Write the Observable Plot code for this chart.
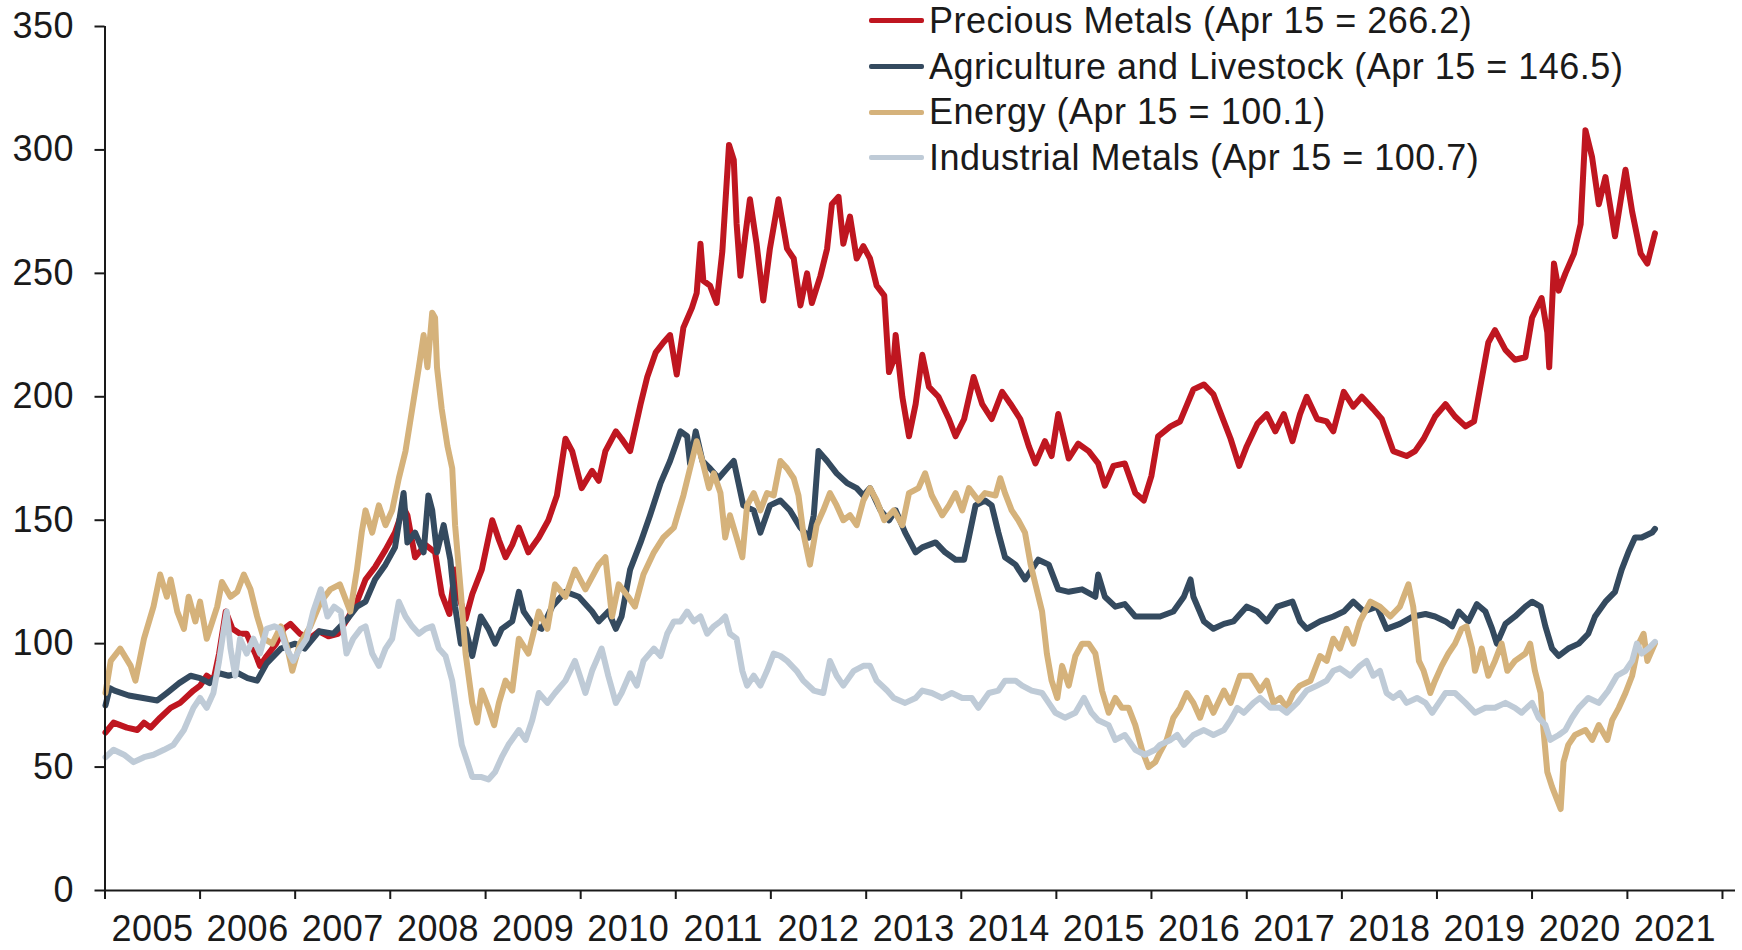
<!DOCTYPE html>
<html><head><meta charset="utf-8">
<script src="https://cdn.jsdelivr.net/npm/d3@7"></script>
<script src="https://cdn.jsdelivr.net/npm/@observablehq/plot@0.6"></script>
<style>
html,body{margin:0;padding:0;background:#fff;}
#wrap{position:relative;width:1742px;height:950px;overflow:hidden;font-family:"Liberation Sans",Arial,sans-serif;color:#1a1a1a;}
#legend{position:absolute;left:869px;top:-2px;font-size:36px;letter-spacing:0.5px;}
.row{display:flex;align-items:center;white-space:nowrap;height:45.7px;}
.row span.tx{line-height:30px;}
.sw{width:55px;height:5px;margin-right:5px;border-radius:2px;}
</style></head><body><div id="wrap"><div id="chart"></div><div id="legend"></div></div>
<script>
// ---- data (decimal year, index value) ----
const seriesNames = ["Precious Metals", "Agriculture and Livestock", "Energy", "Industrial Metals"];
const lastValues = ["266.2", "146.5", "100.1", "100.7"];
const seriesColors = ["#BF1620", "#344A5F", "#D5B27B", "#BFCBD7"];
const yTicks = [0, 50, 100, 150, 200, 250, 300, 350];
const tickYears = [2005,2006,2007,2008,2009,2010,2011,2012,2013,2014,2015,2016,2017,2018,2019,2020,2021,2022];
const labelYears = [2005,2006,2007,2008,2009,2010,2011,2012,2013,2014,2015,2016,2017,2018,2019,2020,2021];

const precious = [
[2005.005,64],[2005.09,68],[2005.23,66],[2005.34,65],[2005.41,68],[2005.48,66],[2005.58,70],[2005.69,74],[2005.79,76],[2005.93,81],[2006.00,83],[2006.07,87],[2006.14,85],[2006.20,96],[2006.27,113],[2006.34,106],[2006.42,104],[2006.49,104],[2006.58,96],[2006.63,91],[2006.70,95],[2006.80,100],[2006.88,106],[2006.95,108],[2007.05,104],[2007.15,102],[2007.25,105],[2007.35,103],[2007.45,104],[2007.55,110],[2007.65,117],
[2007.74,126],[2007.84,131],[2007.95,138],[2008.05,145],[2008.14,155],[2008.18,152],[2008.26,135],[2008.37,140],[2008.47,137],[2008.54,120],[2008.62,112],[2008.68,130],[2008.73,118],[2008.79,110],[2008.86,120],[2008.96,130],[2009.07,150],[2009.14,142],[2009.21,135],[2009.28,140],[2009.35,147],[2009.45,137],[2009.56,143],[2009.66,150],[2009.75,160],[2009.84,183],[2009.91,178],[2010.01,163],[2010.12,170],[2010.19,166],[2010.26,178],[2010.37,186],[2010.43,183],
[2010.52,178],[2010.63,197],[2010.70,208],[2010.79,218],[2010.87,222],[2010.94,225],[2011.01,209],[2011.08,228],[2011.17,236],[2011.22,242],[2011.26,262],[2011.29,247],[2011.36,245],[2011.43,238],[2011.49,259],[2011.56,302],[2011.61,296],[2011.64,270],[2011.68,249],[2011.73,265],[2011.78,280],[2011.85,262],[2011.92,239],[2011.99,260],[2012.08,280],[2012.17,260],[2012.24,256],[2012.31,237],[2012.38,250],[2012.43,238],[2012.52,249],[2012.59,260],[2012.64,278],[2012.71,281],[2012.76,262],[2012.83,273],[2012.90,256],[2012.97,261],[2013.04,256],[2013.11,245],[2013.19,241],[2013.24,210],[2013.29,215],
[2013.31,225],[2013.38,200],[2013.45,184],[2013.52,197],[2013.59,217],[2013.66,204],[2013.76,200],[2013.87,191],[2013.94,184],[2014.03,191],[2014.13,208],[2014.22,197],[2014.32,191],[2014.43,202],[2014.52,197],[2014.62,191],[2014.71,180],[2014.78,173],[2014.88,182],[2014.95,176],[2015.02,193],[2015.13,175],[2015.23,181],[2015.34,178],[2015.44,173],[2015.51,164],[2015.60,172],[2015.72,173],[2015.83,161],[2015.92,158],[2016.00,168],[2016.07,184],
[2016.20,188],[2016.30,190],[2016.44,203],[2016.55,205],[2016.65,201],[2016.76,190],[2016.83,183],[2016.92,172],[2017.00,180],[2017.11,189],[2017.21,193],[2017.30,186],[2017.39,193],[2017.48,182],[2017.56,193],[2017.63,200],[2017.74,191],[2017.84,190],[2017.91,186],[2018.02,202],[2018.12,196],[2018.21,200],[2018.33,195],[2018.42,191],[2018.54,178],[2018.68,176],[2018.77,178],[2018.86,183],
[2018.98,192],[2019.09,197],[2019.19,192],[2019.30,188],[2019.39,190],[2019.46,205],[2019.54,222],[2019.61,227],[2019.72,219],[2019.82,215],[2019.93,216],[2020.00,232],[2020.10,240],[2020.16,226],[2020.18,212],[2020.23,254],[2020.28,243],[2020.35,250],[2020.44,258],[2020.51,270],[2020.56,308],[2020.63,297],[2020.70,278],[2020.77,289],[2020.87,265],[2020.98,292],[2021.05,275],[2021.14,258],[2021.21,254],[2021.29,266.2]
];

const agriculture = [
[2005.005,75],[2005.05,82],[2005.10,81],[2005.25,79],[2005.40,78],[2005.55,77],[2005.65,80],[2005.78,84],[2005.90,87],[2006.00,86],[2006.10,84],[2006.20,88],[2006.30,87],[2006.40,88],[2006.50,86],[2006.60,85],[2006.70,92],[2006.85,98],[2007.00,100],[2007.10,98],[2007.25,105],[2007.40,104],[2007.55,110],[2007.65,115],
[2007.74,117],[2007.84,126],[2007.95,132],[2008.05,139],[2008.14,161],[2008.18,141],[2008.26,145],[2008.35,137],[2008.40,160],[2008.44,154],[2008.49,137],[2008.56,148],[2008.63,134],[2008.68,115],[2008.74,100],[2008.79,106],[2008.86,95],[2008.95,111],[2009.03,106],[2009.10,100],[2009.17,106],[2009.28,109],[2009.35,121],[2009.40,113],[2009.49,108],[2009.59,106],[2009.70,115],[2009.84,121],[2009.98,119],[2010.12,113],[2010.19,109],[2010.29,113],[2010.37,106],[2010.43,111],
[2010.52,130],[2010.63,141],[2010.73,152],[2010.84,165],[2010.94,174],[2011.05,186],[2011.12,184],[2011.15,173],[2011.21,186],[2011.28,174],[2011.36,171],[2011.45,167],[2011.54,171],[2011.61,174],[2011.66,165],[2011.71,156],[2011.82,154],[2011.89,145],[2011.99,156],[2012.10,158],[2012.20,154],[2012.31,147],[2012.40,143],[2012.45,152],[2012.50,178],[2012.59,174],[2012.69,169],[2012.80,165],[2012.90,163],[2012.97,160],[2013.04,163],[2013.15,154],[2013.24,150],
[2013.31,154],[2013.41,145],[2013.52,137],[2013.59,139],[2013.73,141],[2013.83,137],[2013.94,134],[2014.03,134],[2014.08,143],[2014.15,156],[2014.25,158],[2014.32,156],[2014.39,145],[2014.46,135],[2014.57,132],[2014.67,126],[2014.74,130],[2014.81,134],[2014.92,132],[2015.02,122],[2015.13,121],[2015.27,122],[2015.41,119],[2015.44,128],[2015.51,119],[2015.62,115],[2015.72,116],[2015.83,111],[2015.97,111],
[2016.09,111],[2016.23,113],[2016.34,119],[2016.41,126],[2016.44,119],[2016.55,109],[2016.65,106],[2016.76,108],[2016.86,109],[2017.00,115],[2017.11,113],[2017.21,109],[2017.32,115],[2017.48,117],[2017.56,109],[2017.63,106],[2017.77,109],[2017.91,111],[2018.02,113],[2018.12,117],[2018.23,113],[2018.37,115],[2018.47,106],[2018.61,108],[2018.75,111],
[2018.88,112],[2018.98,111],[2019.09,109],[2019.16,107],[2019.23,113],[2019.33,109],[2019.42,116],[2019.51,113],[2019.58,106],[2019.63,100],[2019.72,108],[2019.82,111],[2019.93,115],[2020.00,117],[2020.09,115],[2020.14,107],[2020.21,98],[2020.28,95],[2020.38,98],[2020.49,100],[2020.59,104],[2020.66,111],[2020.77,117],[2020.87,121],[2020.94,130],[2021.01,137],[2021.08,143],[2021.15,143],[2021.26,145],[2021.29,146.5]
];

const energy = [
[2005.005,80],[2005.06,93],[2005.16,98],[2005.27,91],[2005.32,85],[2005.41,102],[2005.51,115],[2005.58,128],[2005.65,119],[2005.69,126],[2005.76,113],[2005.83,106],[2005.88,119],[2005.95,109],[2006.00,117],[2006.07,102],[2006.18,115],[2006.23,125],[2006.32,119],[2006.39,121],[2006.46,128],[2006.53,122],[2006.60,111],[2006.67,102],[2006.76,100],[2006.85,107],[2006.92,98],[2006.97,89],[2007.05,100],[2007.16,107],[2007.27,117],[2007.37,122],[2007.47,124],[2007.58,113],[2007.65,130],[2007.70,145],
[2007.74,154],[2007.81,145],[2007.88,156],[2007.95,148],[2008.02,154],[2008.09,167],[2008.16,178],[2008.23,195],[2008.30,212],[2008.35,225],[2008.39,212],[2008.44,234],[2008.47,232],[2008.49,212],[2008.54,195],[2008.60,180],[2008.65,171],[2008.68,148],[2008.74,121],[2008.79,96],[2008.86,76],[2008.91,68],[2008.96,81],[2009.03,74],[2009.09,67],[2009.14,76],[2009.21,85],[2009.28,81],[2009.35,102],[2009.45,96],[2009.56,113],[2009.65,106],[2009.73,124],[2009.84,119],[2009.94,130],[2010.05,122],[2010.19,132],[2010.26,135],[2010.33,111],[2010.40,124],[2010.50,119],
[2010.57,115],[2010.66,128],[2010.77,137],[2010.87,143],[2010.98,147],[2011.08,160],[2011.15,171],[2011.22,182],[2011.28,174],[2011.35,163],[2011.40,169],[2011.47,161],[2011.52,143],[2011.57,152],[2011.64,143],[2011.70,135],[2011.75,156],[2011.82,161],[2011.89,154],[2011.96,161],[2012.03,160],[2012.10,174],[2012.17,171],[2012.24,167],[2012.29,160],[2012.34,145],[2012.41,132],[2012.48,148],[2012.55,154],[2012.62,161],[2012.69,156],[2012.76,150],[2012.83,152],[2012.90,148],[2012.97,158],[2013.04,163],[2013.11,158],[2013.19,150],[2013.29,154],
[2013.38,148],[2013.45,161],[2013.55,163],[2013.62,169],[2013.69,160],[2013.80,152],[2013.87,156],[2013.94,161],[2014.01,154],[2014.08,163],[2014.18,158],[2014.25,161],[2014.36,160],[2014.41,167],[2014.46,161],[2014.53,154],[2014.60,150],[2014.67,145],[2014.73,132],[2014.78,124],[2014.85,113],[2014.90,96],[2014.95,85],[2015.01,78],[2015.06,91],[2015.13,83],[2015.20,95],[2015.27,100],[2015.34,100],[2015.41,96],[2015.48,81],[2015.55,72],[2015.62,78],[2015.69,74],[2015.76,74],[2015.83,67],[2015.90,57],[2015.97,50],[2016.04,52],[2016.09,56],
[2016.16,61],[2016.23,70],[2016.30,74],[2016.37,80],[2016.44,76],[2016.51,70],[2016.58,78],[2016.65,72],[2016.76,81],[2016.83,76],[2016.93,87],[2017.04,87],[2017.14,81],[2017.21,85],[2017.28,76],[2017.35,78],[2017.42,74],[2017.49,80],[2017.56,83],[2017.67,85],[2017.77,95],[2017.84,93],[2017.91,102],[2017.98,98],[2018.05,106],[2018.12,100],[2018.19,109],[2018.30,117],[2018.40,115],[2018.51,111],[2018.61,115],[2018.70,124],[2018.75,115],[2018.81,93],[2018.86,89],
[2018.93,80],[2018.98,85],[2019.05,91],[2019.12,96],[2019.19,100],[2019.26,106],[2019.31,107],[2019.37,98],[2019.40,89],[2019.47,98],[2019.54,87],[2019.61,93],[2019.68,100],[2019.74,89],[2019.82,93],[2019.93,96],[2019.98,100],[2020.03,89],[2020.09,80],[2020.12,65],[2020.16,48],[2020.21,42],[2020.26,37],[2020.30,33],[2020.33,52],[2020.38,59],[2020.45,63],[2020.56,65],[2020.63,61],[2020.70,67],[2020.79,61],[2020.84,69],[2020.91,74],[2020.98,80],[2021.05,87],[2021.12,100],[2021.17,104],[2021.21,93],[2021.29,100.1]
];

const industrial = [
[2005.005,54],[2005.09,57],[2005.20,55],[2005.30,52],[2005.41,54],[2005.51,55],[2005.62,57],[2005.72,59],[2005.83,65],[2005.93,74],[2006.00,78],[2006.07,74],[2006.14,80],[2006.20,93],[2006.25,106],[2006.28,113],[2006.32,98],[2006.37,87],[2006.42,102],[2006.49,96],[2006.56,102],[2006.63,96],[2006.70,106],[2006.78,107],[2006.84,106],[2006.91,98],[2006.98,93],[2007.05,98],[2007.12,102],[2007.19,113],[2007.27,122],[2007.34,111],[2007.41,115],[2007.48,113],[2007.54,96],[2007.61,102],[2007.69,106],
[2007.74,107],[2007.81,96],[2007.88,91],[2007.95,98],[2008.02,102],[2008.09,117],[2008.16,111],[2008.23,107],[2008.30,104],[2008.37,106],[2008.44,107],[2008.51,98],[2008.58,95],[2008.65,85],[2008.70,72],[2008.75,59],[2008.81,52],[2008.86,46],[2008.95,46],[2009.03,45],[2009.10,48],[2009.17,54],[2009.24,59],[2009.35,65],[2009.42,61],[2009.49,69],[2009.56,80],[2009.65,76],[2009.73,80],[2009.84,85],[2009.94,93],[2010.05,80],[2010.12,89],[2010.22,98],[2010.29,87],[2010.37,76],[2010.43,80],[2010.52,88],
[2010.59,83],[2010.66,93],[2010.77,98],[2010.84,95],[2010.91,104],[2010.98,109],[2011.05,109],[2011.12,113],[2011.19,109],[2011.26,111],[2011.33,104],[2011.40,107],[2011.47,109],[2011.52,111],[2011.57,104],[2011.64,102],[2011.70,89],[2011.75,83],[2011.82,87],[2011.89,83],[2011.96,89],[2012.03,96],[2012.10,95],[2012.17,93],[2012.27,89],[2012.34,85],[2012.45,81],[2012.55,80],[2012.62,93],[2012.69,87],[2012.76,83],[2012.87,89],[2012.97,91],[2013.04,91],[2013.11,85],[2013.22,81],[2013.29,78],
[2013.41,76],[2013.52,78],[2013.59,81],[2013.69,80],[2013.80,78],[2013.90,80],[2014.01,78],[2014.11,78],[2014.18,74],[2014.29,80],[2014.39,81],[2014.46,85],[2014.57,85],[2014.64,83],[2014.74,81],[2014.85,80],[2014.92,76],[2014.99,72],[2015.09,70],[2015.20,72],[2015.29,78],[2015.37,72],[2015.44,69],[2015.55,67],[2015.62,61],[2015.72,63],[2015.83,57],[2015.93,55],[2016.04,57],[2016.09,59],
[2016.20,61],[2016.27,63],[2016.34,59],[2016.44,63],[2016.55,65],[2016.65,63],[2016.76,65],[2016.83,69],[2016.90,74],[2016.97,72],[2017.07,76],[2017.14,78],[2017.25,74],[2017.35,74],[2017.42,72],[2017.53,76],[2017.63,81],[2017.74,83],[2017.84,85],[2017.91,89],[2017.98,90],[2018.09,87],[2018.19,91],[2018.26,93],[2018.33,87],[2018.40,89],[2018.47,80],[2018.54,78],[2018.61,80],[2018.68,76],[2018.79,78],[2018.88,76],
[2018.95,72],[2019.02,76],[2019.09,80],[2019.19,80],[2019.30,76],[2019.40,72],[2019.51,74],[2019.61,74],[2019.72,76],[2019.82,74],[2019.89,72],[2020.00,76],[2020.07,70],[2020.14,67],[2020.19,61],[2020.28,63],[2020.35,65],[2020.42,70],[2020.49,74],[2020.59,78],[2020.70,76],[2020.80,81],[2020.89,87],[2020.98,89],[2021.05,93],[2021.10,100],[2021.15,96],[2021.22,98],[2021.29,100.7]
];

// ---- helpers ----
const toDate = t => {
  const y = Math.floor(t);
  const a = Date.UTC(y, 0, 1), b = Date.UTC(y + 1, 0, 1);
  return new Date(a + (t - y) * (b - a));
};
const allSeries = [precious, agriculture, energy, industrial];
const rows = [];
allSeries.forEach((arr, i) => arr.forEach(([t, v]) => rows.push({series: seriesNames[i], date: toDate(t), value: v})));

const font = '"Liberation Sans", Arial, sans-serif';
const ink = "#1a1a1a";

const chart = Plot.plot({
  width: 1742,
  height: 950,
  marginLeft: 104.5,
  marginRight: 7,
  marginTop: 26,
  marginBottom: 60,
  style: {fontFamily: font, fontSize: "36px", letterSpacing: "0.5px", color: ink, background: "#fff"},
  x: {type: "utc", domain: [toDate(2005), toDate(2022.137)]},
  y: {domain: [0, 350]},
  color: {domain: seriesNames, range: seriesColors},
  marks: [
    ...seriesNames.map(name => Plot.line(rows.filter(d => d.series === name), {
      x: "date", y: "value", stroke: "series", strokeWidth: 6,
      strokeLinejoin: "round", strokeLinecap: "round"
    })),
    Plot.ruleX([toDate(2005)], {y1: 0, y2: 350, stroke: ink, strokeWidth: 2}),
    Plot.ruleY([0], {stroke: ink, strokeWidth: 2}),
    Plot.axisY({ticks: yTicks, tickSize: 10, tickPadding: 21, strokeWidth: 2, label: null, tickFormat: d => String(d)}),
    Plot.axisX({ticks: tickYears.map(y => toDate(y)), tickSize: 9, strokeWidth: 2, label: null, tickFormat: () => ""}),
    Plot.axisX({ticks: labelYears.map(y => toDate(y + 0.5)), tickSize: 0, tickPadding: 25, label: null, tickFormat: d => String(d.getUTCFullYear())})
  ]
});
document.getElementById("chart").appendChild(chart);

// ---- legend ----
const legend = document.getElementById("legend");
seriesNames.forEach((name, i) => {
  const row = document.createElement("div");
  row.className = "row";
  const sw = document.createElement("span");
  sw.className = "sw";
  sw.style.background = seriesColors[i];
  const tx = document.createElement("span");
  tx.className = "tx";
  tx.textContent = `${name} (Apr 15 = ${lastValues[i]})`;
  row.appendChild(sw);
  row.appendChild(tx);
  legend.appendChild(row);
});
</script></body></html>
